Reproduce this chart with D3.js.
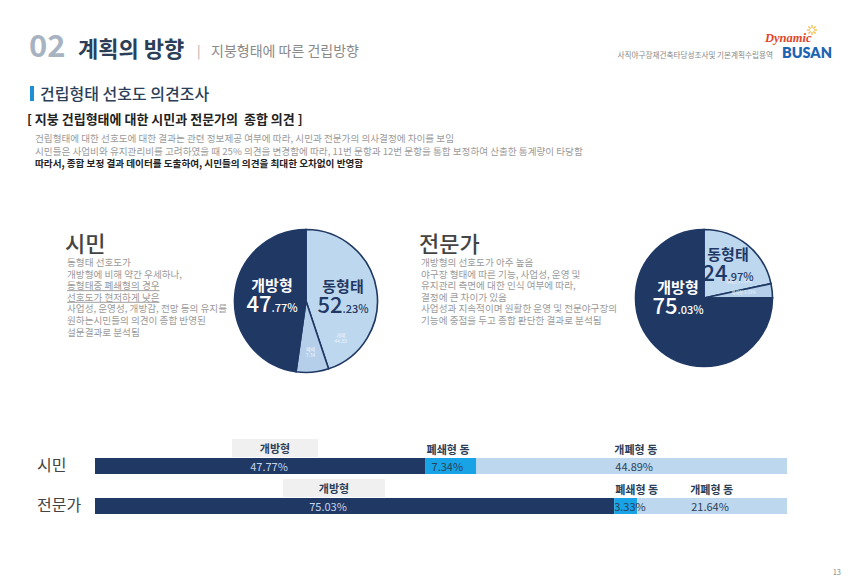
<!DOCTYPE html>
<html><head><meta charset="utf-8">
<script src="https://cdn.jsdelivr.net/npm/d3@7"></script>
<style>
html,body{margin:0;padding:0;background:#fff;}
svg{display:block;font-family:"Noto Sans CJK KR","Noto Sans",sans-serif;}
</style></head>
<body><svg id="c" width="850" height="588"></svg>
<script>
// ---- data ----
const groups = ["시민", "전문가"];
const segNames = ["개방형", "폐쇄형 동", "개폐형 동"];
const openVals = [47.77, 75.03];
const closedVals = [7.34, 3.33];
const retractVals = [44.89, 21.64];
const domeVals = [52.23, 24.97];
const pieSmallNames = [["개폐", "폐쇄"], ["개폐형", "폐쇄형"]];

const NAVY = "#1f3864", CYAN = "#17a3e6", LIGHT = "#bdd7ee", LIGHT2 = "#b5cfea";
const svg = d3.select("#c");

// ---- header ----
svg.append("text").attr("x", 29).attr("y", 57).attr("font-size", 31).attr("font-weight", 700)
  .attr("fill", "#a8b3c2").text("02");
svg.append("text").attr("x", 78).attr("y", 57).attr("font-size", 22).attr("font-weight", 700)
  .attr("fill", "#2c3f58").text("계획의 방향");
svg.append("text").attr("x", 197).attr("y", 56).attr("font-size", 13).attr("fill", "#aaa").text("|");
svg.append("text").attr("x", 211).attr("y", 56).attr("font-size", 14).attr("fill", "#8a8a8a").text("지붕형태에 따른 건립방향");
svg.append("text").attr("x", 773).attr("y", 58).attr("text-anchor", "end").attr("font-size", 7.6)
  .attr("fill", "#888").text("사직야구장재건축타당성조사및 기본계획수립용역");
svg.append("text").attr("x", 765).attr("y", 42).attr("font-size", 12.5).attr("font-style", "italic")
  .attr("font-weight", 700).attr("fill", "#e2452b").attr("font-family", "Liberation Serif").text("Dynamic");
svg.append("text").attr("x", 782).attr("y", 58).attr("font-size", 14.5).attr("font-weight", 800)
  .attr("fill", "#1e64b4").attr("font-family", "Lato").text("BUSAN");
const sun = svg.append("g").attr("transform", "translate(812,30)");
d3.range(8).forEach(i => {
  const a = i * Math.PI / 4;
  sun.append("line").attr("x1", 2 * Math.cos(a)).attr("y1", 2 * Math.sin(a))
    .attr("x2", 5 * Math.cos(a)).attr("y2", 5 * Math.sin(a)).attr("stroke", "#f2b233").attr("stroke-width", 1.2);
});

// ---- section title ----
svg.append("rect").attr("x", 30).attr("y", 86).attr("width", 4).attr("height", 15).attr("fill", "#1e8fd2");
svg.append("text").attr("x", 40).attr("y", 100).attr("font-size", 16).attr("font-weight", 500)
  .attr("fill", "#2c3f58").text("건립형태 선호도 의견조사");
svg.append("text").attr("x", 27).attr("y", 124).attr("font-size", 13).attr("font-weight", 700)
  .attr("fill", "#222").attr("xml:space", "preserve").text("[ 지붕 건립형태에 대한 시민과 전문가의  종합 의견 ]");
const intro = [
  ["건립형태에 대한 선호도에 대한 결과는 관련 정보제공 여부에 따라, 시민과 전문가의 의사결정에 차이를 보임", false],
  ["시민들은 사업비와 유지관리비를 고려하였을 때 25% 의견을 변경함에 따라, 11번 문항과 12번 문항을 통합 보정하여 산출한 통계량이 타당함", false],
  ["따라서, 종합 보정 결과 데이터를 도출하여, 시민들의 의견을 최대한 오차없이 반영함", true]
];
intro.forEach((d, i) => {
  svg.append("text").attr("x", 35).attr("y", 142 + i * 12.5).attr("font-size", 9.6)
    .attr("font-weight", d[1] ? 700 : 400).attr("fill", d[1] ? "#222" : "#9a9a9a").text(d[0]);
});

// ---- side texts ----
function sideText(x, title, lines) {
  svg.append("text").attr("x", x - 2).attr("y", 252).attr("font-size", 22).attr("font-weight", 500)
    .attr("fill", "#444").text(title);
  lines.forEach((l, i) => {
    const t = svg.append("text").attr("x", x).attr("y", 266 + i * 11.6).attr("font-size", 9.6)
      .attr("fill", "#9a9a9a").text(l[0]);
    if (l[1]) t.attr("text-decoration", "underline");
  });
}
sideText(67, groups[0], [
  ["동형태 선호도가"], ["개방형에 비해 약간 우세하나,"], ["동형태중 폐쇄형의 경우", 1],
  ["선호도가 현저하게 낮은", 1], ["사업성, 운영성, 개방감, 전망 등의 유지를"],
  ["원하는시민들의 의견이 종합 반영된"], ["설문결과로 분석됨"]
]);
sideText(421, groups[1], [
  ["개방형의 선호도가 아주 높음"], ["야구장 형태에 따른 기능, 사업성, 운영 및"],
  ["유지관리 측면에 대한 인식 여부에 따라,"], ["결정에 큰 차이가 있음"],
  ["사업성과 지속적이며 원활한 운영 및 전문야구장의"], ["기능에 중점을 두고 종합 판단한 결과로 분석됨"]
]);

// ---- pies ----
const pie = d3.pie().sort(null).value(d => d.v);
function pctParts(v) {
  const s = v.toFixed(2).split(".");
  return [s[0], "." + s[1] + "%"];
}
function drawPie(gi, cx, cy, r, labels) {
  const data = [
    { k: "retract", v: retractVals[gi], c: LIGHT },
    { k: "closed", v: closedVals[gi], c: LIGHT2 },
    { k: "open", v: openVals[gi], c: NAVY }
  ];
  const arcs = pie(data);
  const arc = d3.arc().innerRadius(0).outerRadius(r);
  const g = svg.append("g").attr("transform", `translate(${cx},${cy})`);
  g.selectAll("path").data(arcs).join("path").attr("d", arc).attr("fill", d => d.data.c)
    .attr("stroke", NAVY).attr("stroke-width", 1.6);
  // tiny labels placed near the end of each light slice
  [0, 1].forEach(i => {
    const a = arcs[i];
    const ang = a.endAngle - labels.smallOff[i];
    const rr = labels.smallR[i];
    const px = rr * Math.sin(ang), py = -rr * Math.cos(ang);
    const t = g.append("text").attr("x", px).attr("y", py)
      .attr("text-anchor", "middle").attr("font-size", labels.twoLine ? 5 : 4.2).attr("fill", "#eef4fb");
    if (labels.twoLine) {
      t.append("tspan").attr("x", px).text(pieSmallNames[gi][i]);
      t.append("tspan").attr("x", px).attr("dy", 6).text(a.data.v.toFixed(2));
    } else {
      t.text(pieSmallNames[gi][i] + " " + a.data.v.toFixed(2) + "%");
    }
  });
  // big labels
  function big(x, y, name, v, col) {
    g.append("text").attr("x", x).attr("y", y).attr("text-anchor", "middle").attr("font-size", 15)
      .attr("font-weight", 700).attr("fill", col).text(name);
    const [a, b] = pctParts(v);
    const t = g.append("text").attr("x", x).attr("y", y + 21).attr("text-anchor", "middle").attr("fill", col);
    t.append("tspan").attr("font-size", 22).attr("font-weight", 500).text(a);
    t.append("tspan").attr("font-size", 11).attr("font-weight", 500).text(b);
  }
  big(labels.open[0], labels.open[1], "개방형", openVals[gi], "#ffffff");
  big(labels.dome[0], labels.dome[1], "동형태", domeVals[gi], NAVY);
}
drawPie(0, 306, 301, 71.5, { open: [-34, -10], dome: [37, -9],
  smallOff: [0.45, 0.23], smallR: [50, 50], twoLine: true });
drawPie(1, 704, 298, 68.5, { open: [-26, -5], dome: [24, -38],
  smallOff: [0.2, 0.1], smallR: [38, 40], twoLine: false });

// ---- stacked bars ----
const x = d3.scaleLinear().domain([0, 100]).range([95, 787]);
const rows = groups.map((g, i) => ({ g, vals: [openVals[i], closedVals[i], retractVals[i]] }));
const rowY = [458, 498];
const barH = 16;
const segCol = [NAVY, CYAN, LIGHT];
rows.forEach((row, ri) => {
  const y0 = rowY[ri];
  svg.append("text").attr("x", 37).attr("y", y0 + 13).attr("font-size", 16).attr("fill", "#444").text(row.g);
  let acc = 0;
  const starts = row.vals.map(v => { const s = acc; acc += v; return s; });
  svg.selectAll(null).data(row.vals).join("rect")
    .attr("x", (d, i) => x(starts[i])).attr("y", y0)
    .attr("width", (d, i) => x(starts[i] + d) - x(starts[i])).attr("height", barH)
    .attr("fill", (d, i) => segCol[i]);
  // open label with grey box
  const oc = ri === 0 ? 275 : 334;
  const bw = ri === 0 ? 86 : 102;
  svg.append("rect").attr("x", oc - bw / 2).attr("y", y0 - 19).attr("width", bw).attr("height", 18).attr("fill", "#f0f0f0");
  svg.append("text").attr("x", oc).attr("y", y0 - 5).attr("text-anchor", "middle").attr("font-size", 11)
    .attr("font-weight", 700).attr("fill", "#2c3f58").text(segNames[0]);
  svg.append("text").attr("x", oc - 6).attr("y", y0 + 13).attr("text-anchor", "middle").attr("font-size", 11)
    .attr("fill", "#c7d3e6").text(row.vals[0].toFixed(2) + "%");
  // closed
  const cx0 = x(starts[1]);
  svg.append("text").attr("x", cx0 + 1).attr("y", y0 - 4).attr("font-size", 11).attr("font-weight", 700)
    .attr("fill", "#2c3f58").text(segNames[1]);
  svg.append("text").attr("x", cx0 + (ri === 0 ? 6 : 0)).attr("y", y0 + 13).attr("font-size", 11)
    .attr("fill", "#2c3f58").text(row.vals[1].toFixed(2) + "%");
  // retract
  const rx0 = ri === 0 ? x(starts[2]) + 138 : x(starts[2]) + 53;
  svg.append("text").attr("x", rx0).attr("y", y0 - 4).attr("font-size", 11).attr("font-weight", 700)
    .attr("fill", "#2c3f58").text(segNames[2]);
  svg.append("text").attr("x", rx0 + 1).attr("y", y0 + 13).attr("font-size", 11)
    .attr("fill", "#2c3f58").text(row.vals[2].toFixed(2) + "%");
});

svg.append("text").attr("x", 841).attr("y", 575).attr("text-anchor", "end").attr("font-size", 7.5)
  .attr("fill", "#888").text("13");
</script></body></html>
